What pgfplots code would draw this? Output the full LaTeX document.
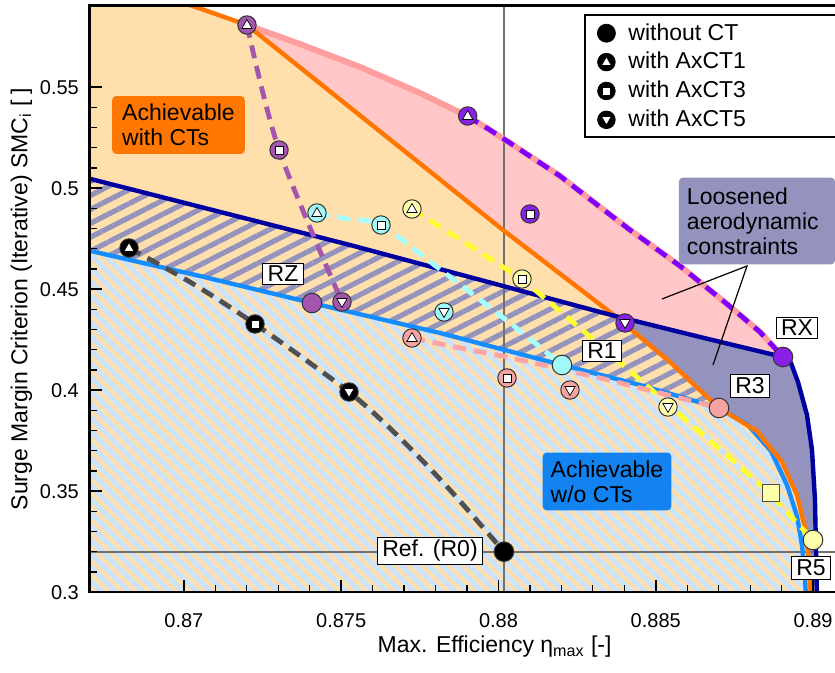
\documentclass[border=0pt]{standalone}
\usepackage{fontspec}
\setmainfont{Liberation Sans}
\usepackage{pgfplots}
\pgfplotsset{compat=1.18}
\usetikzlibrary{patterns.meta}

\definecolor{peach}{HTML}{FFDFAB}
\definecolor{pinkfill}{HTML}{FFC7C7}
\definecolor{pinkline}{HTML}{FF9E9E}
\definecolor{lav}{HTML}{9393BE}
\definecolor{orangeL}{HTML}{FF7700}
\definecolor{navy}{HTML}{0000A0}
\definecolor{blueL}{HTML}{158CFF}
\definecolor{lblue}{HTML}{CCE3FA}
\definecolor{purp}{HTML}{A455AE}
\definecolor{viol}{HTML}{8000FF}
\definecolor{violm}{HTML}{8A20E8}
\definecolor{cyanm}{HTML}{A0F8F8}
\definecolor{cyanl}{HTML}{A8FFFF}
\definecolor{yelm}{HTML}{FFFFAA}
\definecolor{yell}{HTML}{FFFF30}
\definecolor{pinkm}{HTML}{F5A3A3}
\definecolor{pinkd}{HTML}{FFA3A3}
\definecolor{grayd}{HTML}{505050}
\definecolor{refg}{HTML}{707070}
\definecolor{boxorange}{HTML}{FF7700}
\definecolor{boxblue}{HTML}{1283F0}

\newcommand\bigf{\fontsize{11.5}{12.5}\selectfont}
\newcommand\tickf{\fontsize{10}{11.5}\selectfont}

\pgfdeclareplotmark{ctri}{%
 \pgfpathcircle{\pgfpointorigin}{\pgfplotmarksize}\pgfusepathqfillstroke
 \begin{pgfscope}\pgfsetfillcolor{white}\pgfsetstrokecolor{black}\pgfsetlinewidth{0.35pt}%
 \pgfpathmoveto{\pgfqpoint{0pt}{0.6\pgfplotmarksize}}%
 \pgfpathlineto{\pgfqpoint{0.56\pgfplotmarksize}{-0.38\pgfplotmarksize}}%
 \pgfpathlineto{\pgfqpoint{-0.56\pgfplotmarksize}{-0.38\pgfplotmarksize}}%
 \pgfpathclose\pgfusepathqfillstroke\end{pgfscope}}
\pgfdeclareplotmark{cdtri}{%
 \pgfpathcircle{\pgfpointorigin}{\pgfplotmarksize}\pgfusepathqfillstroke
 \begin{pgfscope}\pgfsetfillcolor{white}\pgfsetstrokecolor{black}\pgfsetlinewidth{0.35pt}%
 \pgfpathmoveto{\pgfqpoint{0pt}{-0.6\pgfplotmarksize}}%
 \pgfpathlineto{\pgfqpoint{0.56\pgfplotmarksize}{0.38\pgfplotmarksize}}%
 \pgfpathlineto{\pgfqpoint{-0.56\pgfplotmarksize}{0.38\pgfplotmarksize}}%
 \pgfpathclose\pgfusepathqfillstroke\end{pgfscope}}
\pgfdeclareplotmark{csq}{%
 \pgfpathcircle{\pgfpointorigin}{\pgfplotmarksize}\pgfusepathqfillstroke
 \begin{pgfscope}\pgfsetfillcolor{white}\pgfsetstrokecolor{black}\pgfsetlinewidth{0.35pt}%
 \pgfpathrectanglecorners{\pgfqpoint{-0.45\pgfplotmarksize}{-0.45\pgfplotmarksize}}{\pgfqpoint{0.45\pgfplotmarksize}{0.45\pgfplotmarksize}}%
 \pgfusepathqfillstroke\end{pgfscope}}

\pgfplotsset{
  fillreg/.style={draw=none, forget plot},
  cline/.style={forget plot, no markers, line width=#1, line join=round},
  dline/.style={forget plot, no markers, line width=2.4pt, dash pattern=on 6.5pt off 4pt, #1},
  ctm/.style 2 args={forget plot, only marks, mark=#1, mark size=4.6pt, mark options={fill=#2, draw=black!80, line width=0.5pt}},
  rm/.style={forget plot, only marks, mark=*, mark size=4.9pt, mark options={fill=#1, draw=black!80, line width=0.5pt}},
}
\tikzset{lbl/.style={draw=black, fill=white, line width=0.5pt, inner xsep=2.5pt, inner ysep=1.5pt, font=\bigf}}

\begin{document}
\begin{tikzpicture}
\begin{axis}[
 name=ax,
 scale only axis, width=374.05pt, height=293.4pt,
 xmin=0.867, xmax=0.89078, ymin=0.3, ymax=0.590495,
 xtick={0.87,0.875,0.88,0.885,0.89}, xticklabels={0.87,0.875,0.88,0.885,0.89},
 ytick={0.3,0.35,0.4,0.45,0.5,0.55}, yticklabels={0.3,0.35,0.4,0.45,0.5,0.55},
 minor x tick num=4, minor y tick num=4,
 xtick pos=left, ytick pos=left, tick align=inside,
 major tick length=6pt, minor tick length=3.5pt,
 every major tick/.append style={line width=0.9pt, black},
 every minor tick/.append style={line width=0.6pt, black},
 axis line style={line width=1.2pt},
 axis on top,
 /pgf/number format/assume math mode=true,
 ticklabel style={font=\tickf},
 xticklabel style={yshift=-7pt},
 yticklabel style={xshift=-1.8pt},
 label style={font=\bigf},
 xlabel={Max. Efficiency η\textsubscript{max} [-]},
 ylabel={Surge Margin Criterion (Iterative) SMC\textsubscript{i} [ ]},
 xlabel style={xshift=15.5pt, yshift=2.5pt},
 ylabel shift=-3pt,
 legend style={at={(rel axis cs:0.6784,0.9770)}, anchor=north west, draw=none, fill=none, font=\bigf, inner xsep=0pt, inner ysep=0pt, row sep=0.6pt, /tikz/every odd column/.append style={column sep=4.5pt}},
 legend cell align=left,
]
% legend entries
\addlegendimage{only marks, mark=*, mark size=4.5pt, mark options={fill=black,draw=black}}
\addlegendentry{without CT}
\addlegendimage{only marks, mark=ctri, mark size=4.4pt, mark options={fill=black,draw=black}}
\addlegendentry{with AxCT1}
\addlegendimage{only marks, mark=csq, mark size=4.4pt, mark options={fill=black,draw=black}}
\addlegendentry{with AxCT3}
\addlegendimage{only marks, mark=cdtri, mark size=4.4pt, mark options={fill=black,draw=black}}
\addlegendentry{with AxCT5}

% ---- filled regions ----
% achievable with CTs (below orange curve)
\addplot[fillreg, fill=peach] coordinates {
(0.8669,0.6) (0.869718,0.593213) (0.870830,0.587273) (0.872006,0.580837) (0.873373,0.563810)
(0.874962,0.544007) (0.877029,0.518217) (0.880144,0.479356) (0.883704,0.436782) (0.885452,0.414010)
(0.887009,0.391238) (0.888217,0.379851) (0.889012,0.364505) (0.889489,0.348168) (0.889743,0.331832)
(0.889870,0.315990) (0.889934,0.296188) (0.8669,0.296188)} -- cycle;
% pink region
\addplot[fillreg, fill=pinkfill] coordinates {
(0.872006,0.580837) (0.873691,0.571432) (0.875598,0.560045) (0.877505,0.547178) (0.879000,0.535792)
(0.879730,0.528861) (0.880366,0.522425) (0.881956,0.506089) (0.883227,0.490743) (0.884181,0.479356)
(0.885770,0.461535) (0.887264,0.442723) (0.888313,0.428861) (0.889044,0.416485)
(0.886406,0.426386) (0.883704,0.436782)
(0.880144,0.479356) (0.877029,0.518217) (0.874962,0.544007) (0.873373,0.563810)} -- cycle;
% loosened constraints region
\addplot[fillreg, fill=lav] coordinates {
(0.883704,0.436782) (0.886406,0.426386) (0.889044,0.416485) (0.889298,0.413515) (0.889521,0.404109)
(0.889807,0.387772) (0.889966,0.370446) (0.890061,0.345693) (0.890093,0.320941) (0.890125,0.296188)
(0.889934,0.296188) (0.889870,0.315990) (0.889743,0.331832) (0.889489,0.348168) (0.889012,0.364505)
(0.888217,0.379851) (0.887009,0.391238) (0.885452,0.414010)} -- cycle;
% hatched band
\addplot[fillreg, pattern={Lines[angle=27,distance=6.2pt,line width=2.6pt]}, pattern color=lav] coordinates {
(0.8669,0.50515) (0.875280,0.471931) (0.883704,0.436782) (0.885452,0.414010) (0.887009,0.391238)
(0.884498,0.402624) (0.882019,0.412524) (0.878141,0.428366) (0.874072,0.443218) (0.870512,0.456584)
(0.8669,0.469455)} -- cycle;
% achievable w/o CTs
\addplot[fillreg, fill=lblue] coordinates {
(0.8669,0.469455) (0.870512,0.456584) (0.874072,0.443218) (0.878141,0.428366) (0.882019,0.412524)
(0.884498,0.402624) (0.887009,0.391238) (0.887931,0.382822) (0.888662,0.369950) (0.889171,0.353119)
(0.889489,0.337772) (0.889647,0.323416) (0.889743,0.308564) (0.889775,0.296188) (0.8669,0.296188)} -- cycle;
\addplot[fillreg, pattern={Lines[angle=-45,distance=4.8pt,line width=2pt]}, pattern color=peach] coordinates {
(0.8669,0.469455) (0.870512,0.456584) (0.874072,0.443218) (0.878141,0.428366) (0.882019,0.412524)
(0.884498,0.402624) (0.887009,0.391238) (0.887931,0.382822) (0.888662,0.369950) (0.889171,0.353119)
(0.889489,0.337772) (0.889647,0.323416) (0.889743,0.308564) (0.889775,0.296188) (0.8669,0.296188)} -- cycle;

% ---- reference lines ----
\addplot[forget plot, refg, line width=1pt] coordinates {(0.880175,0.29) (0.880175,0.6)};
\addplot[forget plot, refg, line width=1pt] coordinates {(0.866,0.320099) (0.892,0.320099)};

% ---- boundary curves ----
\addplot[cline=3pt, pinkline] coordinates {
(0.872006,0.580837) (0.873691,0.571432) (0.875598,0.560045) (0.877505,0.547178) (0.879000,0.535792)
(0.879730,0.528861) (0.880366,0.522425) (0.881956,0.506089) (0.883227,0.490743) (0.884181,0.479356)
(0.885770,0.461535) (0.887264,0.442723) (0.888313,0.428861) (0.889044,0.416485)};
\addplot[cline=2.2pt, blueL] coordinates {
(0.8669,0.469455) (0.870512,0.456584) (0.874072,0.443218) (0.878141,0.428366) (0.882019,0.412524)
(0.884498,0.402624) (0.887009,0.391238) (0.887931,0.382822) (0.888662,0.369950) (0.889171,0.353119)
(0.889489,0.337772) (0.889647,0.323416) (0.889743,0.308564) (0.889775,0.296188)};
\addplot[cline=2.2pt, orangeL] coordinates {
(0.869718,0.593213) (0.870830,0.587273) (0.872006,0.580837) (0.873373,0.563810)
(0.874962,0.544007) (0.877029,0.518217) (0.880144,0.479356) (0.883704,0.436782) (0.885452,0.414010)
(0.887009,0.391238) (0.888217,0.379851) (0.889012,0.364505) (0.889489,0.348168) (0.889743,0.331832)
(0.889870,0.315990) (0.889934,0.296188)};
\addplot[cline=2.2pt, navy] coordinates {
(0.8669,0.50515) (0.875280,0.471931) (0.883704,0.436782) (0.886406,0.426386) (0.889044,0.416485)
(0.889298,0.413515) (0.889521,0.404109) (0.889807,0.387772) (0.889966,0.370446) (0.890061,0.345693)
(0.890093,0.320941) (0.890125,0.296188)};

% ---- dashed series ----
\addplot[dline=grayd, smooth] coordinates {
(0.868256,0.470446) (0.870195,0.453614) (0.872261,0.432822) (0.875249,0.399158) (0.876870,0.376385)
(0.878459,0.350644) (0.880175,0.320099)};
\addplot[dline=purp, smooth] coordinates {
(0.872006,0.580837) (0.873024,0.518960) (0.875026,0.443713)};
\addplot[dline=viol] coordinates {
(0.879000,0.535792) (0.879730,0.528861) (0.880366,0.522425) (0.881956,0.506089) (0.883227,0.490743)
(0.884181,0.479356) (0.885770,0.461535) (0.887264,0.442723) (0.888313,0.428861) (0.889044,0.416485)};
\addplot[dline=cyanl, smooth] coordinates {
(0.874231,0.487772) (0.875185,0.484802) (0.876266,0.481832) (0.878046,0.461040) (0.880366,0.433317)
(0.882019,0.412524)};
\addplot[dline=yell] coordinates {
(0.877251,0.489753) (0.880748,0.455099) (0.883227,0.422426) (0.885388,0.393218) (0.887359,0.366485)
(0.888662,0.348168) (0.889998,0.325891)};
\addplot[dline=pinkd] coordinates {
(0.877251,0.425891) (0.878777,0.420941) (0.880271,0.416485) (0.883227,0.406089) (0.886406,0.393713)
(0.887009,0.391238)};

% ---- markers ----
% without CT (black)
\addplot[ctm={ctri}{black}] coordinates {(0.868256,0.470446)};
\addplot[ctm={csq}{black}] coordinates {(0.872261,0.432822)};
\addplot[ctm={cdtri}{black}] coordinates {(0.875249,0.399158)};
\addplot[rm=black] coordinates {(0.880175,0.320099)};
% RZ (purple)
\addplot[ctm={ctri}{purp}] coordinates {(0.872006,0.580837)};
\addplot[ctm={csq}{purp}] coordinates {(0.873024,0.518960)};
\addplot[ctm={cdtri}{purp}] coordinates {(0.875026,0.443713)};
\addplot[rm=purp] coordinates {(0.874072,0.443218)};
% RX (violet)
\addplot[ctm={ctri}{violm}] coordinates {(0.879022,0.535792)};
\addplot[ctm={csq}{violm}] coordinates {(0.881002,0.487277)};
\addplot[ctm={cdtri}{violm}] coordinates {(0.884022,0.433317)};
\addplot[rm=violm] coordinates {(0.889044,0.416485)};
% R1 (cyan)
\addplot[ctm={ctri}{cyanm}] coordinates {(0.874231,0.487772)};
\addplot[ctm={csq}{cyanm}] coordinates {(0.876266,0.481832)};
\addplot[ctm={cdtri}{cyanm}] coordinates {(0.878268,0.438762)};
\addplot[rm=cyanm] coordinates {(0.882019,0.412524)};
% R5 (yellow)
\addplot[ctm={ctri}{yelm}] coordinates {(0.877251,0.489753)};
\addplot[ctm={csq}{yelm}] coordinates {(0.880748,0.455099)};
\addplot[ctm={cdtri}{yelm}] coordinates {(0.885388,0.391733)};
\addplot[forget plot, only marks, mark=square*, mark size=4.1pt, mark options={fill=yelm, draw=black!70, line width=0.5pt}] coordinates {(0.888662,0.349158)};
\addplot[rm=yelm] coordinates {(0.889998,0.325891)};
% R3 (pink)
\addplot[ctm={ctri}{pinkm}] coordinates {(0.877251,0.425891)};
\addplot[ctm={csq}{pinkm}] coordinates {(0.880271,0.406089)};
\addplot[ctm={cdtri}{pinkm}] coordinates {(0.882273,0.400149)};
\addplot[rm=pinkm] coordinates {(0.887009,0.391238)};

% ---- labels ----
\node[lbl] at (axis cs:0.873151,0.457574) {RZ};
\node[lbl] at (axis cs:0.883291,0.419455) {R1};
\node[lbl] at (axis cs:0.889489,0.430842) {RX};
\node[lbl] at (axis cs:0.887995,0.402129) {R3};
\node[lbl] at (axis cs:0.889934,0.312030) {R5};
\node[lbl] at (axis cs:0.877823,0.320446) {Ref. (R0)};

\node[fill=boxorange, rounded corners=2pt, align=left, font=\bigf, inner xsep=5pt, inner ysep=4pt] at (axis cs:0.869829,0.531337) {Achievable\\with CTs};
\node[fill=boxblue, rounded corners=2pt, align=left, font=\bigf, inner xsep=4pt, inner ysep=4pt] at (axis cs:0.883450,0.354851) {Achievable\\w/o CTs};
\draw[black, line width=0.6pt] (axis cs:0.885198,0.445198) -- (axis cs:0.887900,0.461535) -- (axis cs:0.886819,0.412524);
\node[fill=lav, rounded corners=2pt, align=left, font=\bigf, text width=70pt, inner xsep=4pt, inner ysep=5pt] at (axis cs:0.888217,0.483812) {Loosened\\aerodynamic\\constraints};

% legend frame
\draw[line width=1pt, fill=white] (rel axis cs:0.66231,0.98347) rectangle (rel axis cs:1.03,0.77556);
\end{axis}
\pgfresetboundingbox
\path[use as bounding box] ([shift={(-44.75pt,-40.35pt)}]ax.south west) rectangle ([shift={(-1.3pt,2.75pt)}]ax.north east);
\end{tikzpicture}
\end{document}
